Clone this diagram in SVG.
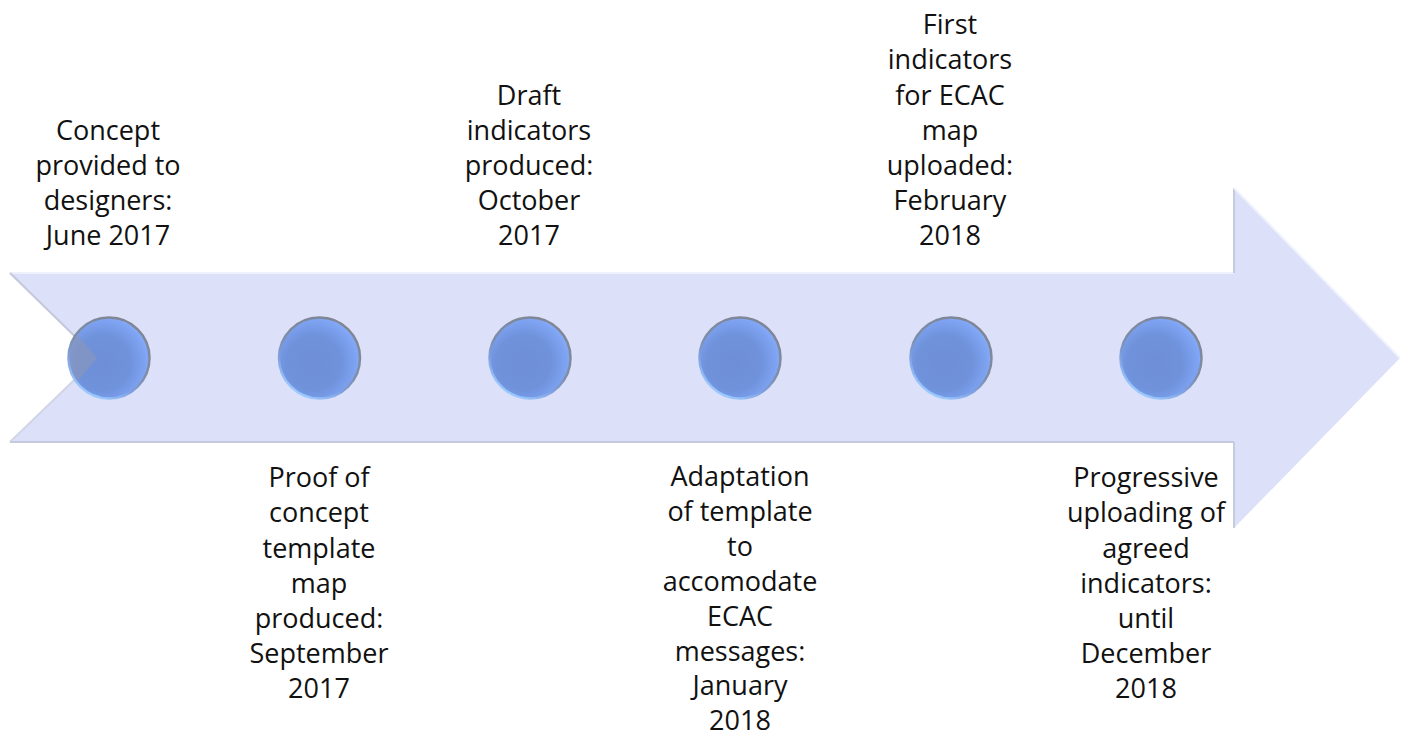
<svg xmlns="http://www.w3.org/2000/svg" width="1407" height="738" viewBox="0 0 1407 738">
<style>
text{font-family:"Open Sans","Noto Sans",sans-serif;font-size:27px;fill:#111;text-anchor:middle}
.dot{fill:url(#ball)}
.rim{fill:none;stroke:url(#rim);stroke-width:2.5}
.edge{fill:none;stroke-width:2}
</style>
<defs>
<radialGradient id="ball" cx="0.42" cy="0.56" r="0.62">
<stop offset="0" stop-color="#6e8fd8"/><stop offset="0.55" stop-color="#6f92db"/><stop offset="0.85" stop-color="#7ea3f2"/><stop offset="1" stop-color="#88aefc"/>
</radialGradient>
<linearGradient id="rim" x1="0.75" y1="0.05" x2="0.25" y2="0.95">
<stop offset="0" stop-color="#7f8594"/><stop offset="0.5" stop-color="#7f8ea8"/><stop offset="0.72" stop-color="#7f9fe0"/><stop offset="1" stop-color="#9ccbff"/>
</linearGradient>
<clipPath id="c1"><circle cx="109" cy="358" r="40"/></clipPath>
</defs>
<g id="arrow">
<path d="M10 273H1234V188L1400 358L1234 528V442H10L97 358Z" fill="#dce0f8"/>
<path class="edge" d="M10 273H1234" stroke="#eef0fc"/>
<path class="edge" d="M10 273L97 358" stroke="#c4c8da"/>
<path class="edge" d="M97 358L10 442" stroke="#d2d5e6"/>
<path class="edge" d="M10 442H1234" stroke="#c6cade"/>
<path class="edge" d="M1234 273V188" stroke="#c6cade"/>
<path class="edge" d="M1234 188L1400 358" stroke="#f0f2fd"/>
<path class="edge" d="M1234 442V528" stroke="#c6cade"/>
</g>
<g id="connectors"></g>
<g id="n1"><circle class="dot" cx="109" cy="358" r="40.500"/><path d="M45 296L97 358L45 420Z" fill="#8e98b4" opacity="0.55" clip-path="url(#c1)"/><circle class="rim" cx="109" cy="358" r="40.500"/>
<text><tspan x="108" y="140">Concept</tspan><tspan x="108" y="175">provided to</tspan><tspan x="108" y="210">designers:</tspan><tspan x="108" y="245">June 2017</tspan></text></g>
<g id="n2"><circle class="dot" cx="319.500" cy="358" r="40.500"/><circle class="rim" cx="319.500" cy="358" r="40.500"/>
<text><tspan x="319" y="487">Proof of</tspan><tspan x="319" y="522">concept</tspan><tspan x="319" y="557.500">template</tspan><tspan x="319" y="592.500">map</tspan><tspan x="319" y="628">produced:</tspan><tspan x="319" y="663">September</tspan><tspan x="319" y="698">2017</tspan></text></g>
<g id="n3"><circle class="dot" cx="530" cy="358" r="40.500"/><circle class="rim" cx="530" cy="358" r="40.500"/>
<text><tspan x="529" y="105">Draft</tspan><tspan x="529" y="140">indicators</tspan><tspan x="529" y="175">produced:</tspan><tspan x="529" y="210">October</tspan><tspan x="529" y="245">2017</tspan></text></g>
<g id="n4"><circle class="dot" cx="740" cy="358" r="40.500"/><circle class="rim" cx="740" cy="358" r="40.500"/>
<text><tspan x="740" y="486">Adaptation</tspan><tspan x="740" y="520.500">of template</tspan><tspan x="740" y="555.500">to</tspan><tspan x="740" y="590.500">accomodate</tspan><tspan x="740" y="625.500">ECAC</tspan><tspan x="740" y="660.500">messages:</tspan><tspan x="740" y="695">January</tspan><tspan x="740" y="729.500">2018</tspan></text></g>
<g id="n5"><circle class="dot" cx="951" cy="358" r="40.500"/><circle class="rim" cx="951" cy="358" r="40.500"/>
<text><tspan x="950" y="34">First</tspan><tspan x="950" y="69">indicators</tspan><tspan x="950" y="104.500">for ECAC</tspan><tspan x="950" y="140">map</tspan><tspan x="950" y="175">uploaded:</tspan><tspan x="950" y="210">February</tspan><tspan x="950" y="245">2018</tspan></text></g>
<g id="n6"><circle class="dot" cx="1161" cy="358" r="40.500"/><circle class="rim" cx="1161" cy="358" r="40.500"/>
<text><tspan x="1146" y="487">Progressive</tspan><tspan x="1146" y="522">uploading of</tspan><tspan x="1146" y="557.500">agreed</tspan><tspan x="1146" y="592.500">indicators:</tspan><tspan x="1146" y="628">until</tspan><tspan x="1146" y="663">December</tspan><tspan x="1146" y="698">2018</tspan></text></g>
</svg>
